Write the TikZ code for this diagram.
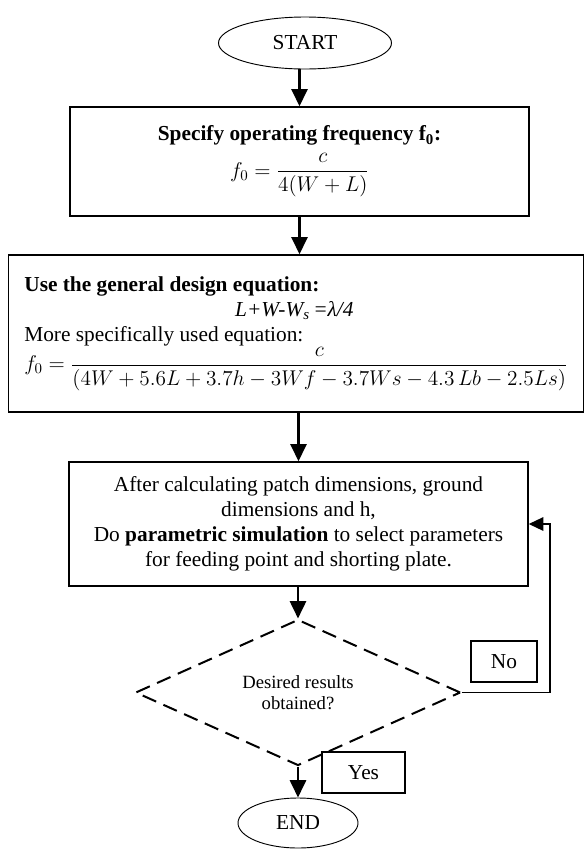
\RequirePackage{fix-cm}
\documentclass[tikz,border=0pt]{standalone}
\usepackage{amsmath}
\usepackage{fontspec}
\setmainfont{Liberation Serif}
\usetikzlibrary{arrows.meta,positioning,shapes.geometric}

\begin{document}
\begin{tikzpicture}[
  x=0.75pt, y=-0.75pt,
  >=Stealth,
  every node/.style={font=\fontsize{16}{18.75}\selectfont},
  terminal/.style={draw, ellipse, line width=0.7pt, inner sep=0pt},
  stepbox/.style={draw, line width=1pt, align=center, inner sep=0pt},
  decision/.style={draw, diamond, dash pattern=on 11pt off 6pt, line width=1.5pt,
    inner sep=0pt, align=center, font=\fontsize{14}{16}\selectfont},
  tagbox/.style={draw, fill=white, line width=1pt, inner sep=0pt},
  arrow/.style={-{Triangle[width=12pt,length=13pt]}, line width=2pt},
  loopback/.style={-{Triangle[width=10pt,length=11pt]}, line width=1.4pt}
]
\useasboundingbox (0,0) rectangle (583,850);

% START
\node[terminal, minimum width=129.75pt, minimum height=39pt] (start) at (305,43) {START};
% frequency
\node[stepbox, minimum width=344.25pt, minimum height=81.75pt] (spec) at (299.5,161.5) {
  \textbf{Specify operating frequency f\textsubscript{0}:}\\[5pt]
  $f_0=\dfrac{c}{4(W+L)}$
};
% design equation
\node[stepbox, minimum width=431.25pt, minimum height=117.75pt, align=left] (design) at (296,333.5) {
  \textbf{Use the general design equation:}\\
  \makebox[405pt]{\textit{L+W-W\textsubscript{s}\,=λ/4}}\\
  More specifically used equation:\\
  $f_0=\dfrac{c}{(4W+5.6L+3.7h-3Wf-3.7Ws-4.3\,Lb-2.5Ls)}$
};
% parametric simulation
\node[stepbox, minimum width=344.25pt, minimum height=93pt] (simulate) at (298.5,524) {
  After calculating patch dimensions, ground\\
  dimensions and h,\\
  Do \textbf{parametric simulation} to select parameters\\
  for feeding point and shorting plate.
};
% decision
\node[decision, minimum width=243.75pt, minimum height=105.75pt] (check) at (298,692.5) {
  Desired results\\obtained?
};
% END
\node[terminal, minimum width=90pt, minimum height=37.5pt] (finish) at (298,823) {END};

\node[tagbox, minimum width=49.5pt, minimum height=30.75pt] (no) at (504,661.5) {No};
\node[tagbox, minimum width=62.25pt, minimum height=30.75pt] (yes) at (363.5,772.5) {Yes};

\coordinate (loop) at (550,524);

\draw[arrow] (spec.north |- start.south) -- (spec.north);
\draw[arrow] (spec.south) -- (spec.south |- design.north);
\draw[arrow] (simulate.north |- design.south) -- (simulate.north);
\draw[arrow] (simulate.south -| check.north) -- (check.north);
\draw[arrow] (check.south) -- (finish.north);
\draw[loopback] (check.east) -| (loop) -- (simulate.east);
\end{tikzpicture}
\end{document}
